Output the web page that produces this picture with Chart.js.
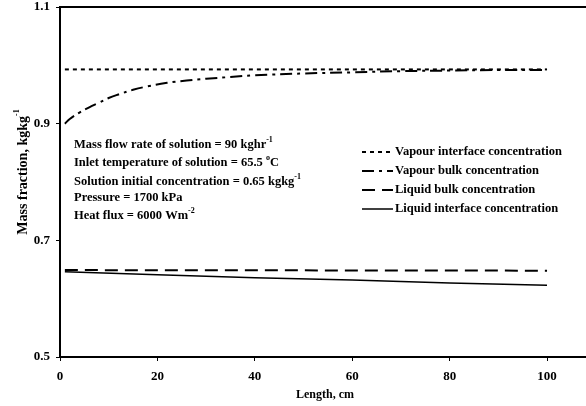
<!DOCTYPE html>
<html lang="en">
<head>
    <meta charset="UTF-8">
    <title>Mass fraction along length</title>
    <script src="https://cdn.jsdelivr.net/npm/chart.js"></script>
    <style>
        body {
            margin: 0;
            background: #fff;
        }
        #chart-container {
            width: 586px;
            height: 406px;
        }
    </style>
</head>
<body>
    <div id="chart-container">
        <canvas id="massChart"></canvas>
    </div>

    <script>
        // data (length in cm, mass fraction in kg/kg)
        const vapourInterfaceX = [1, 100];
        const vapourInterface = [0.993, 0.993];

        const vapourBulkX = [1, 2, 4, 6, 8, 10, 12, 15, 18, 22, 26, 30, 35, 40, 50, 60, 70, 80, 90, 100];
        const vapourBulk = [0.900, 0.908, 0.919, 0.928, 0.936, 0.944, 0.950, 0.958, 0.964, 0.970, 0.974, 0.977, 0.980, 0.983, 0.986, 0.988, 0.990, 0.991, 0.992, 0.992];

        const liquidBulkX = [1, 100];
        const liquidBulk = [0.649, 0.648];

        const liquidInterfaceX = [1, 20, 40, 60, 80, 100];
        const liquidInterface = [0.646, 0.641, 0.636, 0.632, 0.627, 0.623];

        const xTicks = [0, 20, 40, 60, 80, 100];
        const yTicks = [0.5, 0.7, 0.9, 1.1];

        // [text, superscript, trailing text]
        const notes = [
            ["Mass flow rate of solution = 90 kghr", "-1"],
            ["Inlet temperature of solution = 65.5 ", "o", "C"],
            ["Solution initial concentration = 0.65 kgkg", "-1"],
            ["Pressure = 1700 kPa", ""],
            ["Heat flux = 6000 Wm", "-2"]
        ];

        const FONT = "'Liberation Serif', 'Times New Roman', serif";

        const toPoints = (xs, ys) => xs.map((x, i) => ({ x: x, y: ys[i] }));

        // text with a raised superscript, optional trailing text
        function supText(c, parts, x, y, size) {
            c.font = "bold " + size + "px " + FONT;
            c.fillText(parts[0], x, y);
            let w = c.measureText(parts[0]).width;
            if (parts[1]) {
                c.font = "bold " + Math.round(size * 0.6) + "px " + FONT;
                c.fillText(parts[1], x + w, y - size * 0.42);
                w += c.measureText(parts[1]).width;
            }
            if (parts[2]) {
                c.font = "bold " + size + "px " + FONT;
                c.fillText(parts[2], x + w, y);
                w += c.measureText(parts[2]).width;
            }
            return w;
        }

        // top frame, axis titles, notes and legend drawn over the plot
        const extras = {
            id: "extras",
            afterDraw(chart) {
                const c = chart.ctx;
                const area = chart.chartArea;
                c.save();
                c.strokeStyle = "#000";
                c.lineWidth = 2;
                c.setLineDash([]);
                c.beginPath();
                c.moveTo(area.left, area.top);
                c.lineTo(area.right, area.top);
                c.stroke();

                c.fillStyle = "#000";
                c.textBaseline = "middle";
                c.textAlign = "left";

                // x title
                c.font = "bold 12px " + FONT;
                const xt = "Length, cm";
                c.fillText(xt, 325 - c.measureText(xt).width / 2, 395);

                // y title, rotated
                c.save();
                c.translate(23, 172);
                c.rotate(-Math.PI / 2);
                const parts = ["Mass fraction, kgkg", "-1"];
                c.font = "bold 14px " + FONT;
                let tw = c.measureText(parts[0]).width;
                c.font = "bold 8px " + FONT;
                tw += c.measureText(parts[1]).width;
                supText(c, parts, -tw / 2, 0, 14);
                c.restore();

                const noteY = [145, 163, 182, 198, 216];
                notes.forEach((t, i) => supText(c, t, 74, noteY[i], 12.5));

                c.font = "bold 12.5px " + FONT;
                const legY = [152, 171, 190, 209];
                chart.data.datasets.forEach((ds, i) => {
                    c.strokeStyle = "#000";
                    c.lineWidth = ds.borderWidth;
                    c.setLineDash(ds.borderDash || []);
                    c.beginPath();
                    c.moveTo(362, legY[i]);
                    c.lineTo(393, legY[i]);
                    c.stroke();
                    c.setLineDash([]);
                    c.fillText(ds.label, 395, legY[i]);
                });
                c.restore();
            }
        };

        new Chart(document.getElementById("massChart"), {
            type: "line",
            data: {
                datasets: [
                    {
                        label: "Vapour interface concentration",
                        data: toPoints(vapourInterfaceX, vapourInterface),
                        borderColor: "#000",
                        borderWidth: 2,
                        borderDash: [4, 4]
                    },
                    {
                        label: "Vapour bulk concentration",
                        data: toPoints(vapourBulkX, vapourBulk),
                        borderColor: "#000",
                        borderWidth: 2,
                        borderDash: [12, 5, 3, 5],
                        tension: 0.4
                    },
                    {
                        label: "Liquid bulk concentration",
                        data: toPoints(liquidBulkX, liquidBulk),
                        borderColor: "#000",
                        borderWidth: 2,
                        borderDash: [13, 7]
                    },
                    {
                        label: "Liquid interface concentration",
                        data: toPoints(liquidInterfaceX, liquidInterface),
                        borderColor: "#000",
                        borderWidth: 1.5
                    }
                ]
            },
            options: {
                responsive: true,
                maintainAspectRatio: false,
                animation: false,
                layout: { padding: { top: 7, left: 0, right: 0, bottom: 0 } },
                elements: { point: { radius: 0 } },
                plugins: {
                    legend: { display: false },
                    tooltip: { enabled: false }
                },
                scales: {
                    x: {
                        type: "linear",
                        min: 0,
                        max: 108,
                        afterBuildTicks: s => { s.ticks = xTicks.map(v => ({ value: v })); },
                        afterFit: s => { s.height = 49; s.paddingRight = 0; },
                        grid: { drawOnChartArea: false, drawTicks: true, tickLength: 4, color: "#000" },
                        border: { display: true, color: "#000", width: 2 },
                        ticks: {
                            color: "#000",
                            padding: 8,
                            maxRotation: 0,
                            font: { family: FONT, size: 13, weight: "bold" }
                        }
                    },
                    y: {
                        min: 0.5,
                        max: 1.1,
                        afterBuildTicks: s => { s.ticks = yTicks.map(v => ({ value: v })); },
                        afterFit: s => { s.width = 60; s.paddingTop = 0; s.paddingBottom = 0; },
                        grid: { drawOnChartArea: false, drawTicks: true, tickLength: 4, color: "#000" },
                        border: { display: true, color: "#000", width: 2 },
                        ticks: {
                            color: "#000",
                            padding: 6,
                            callback: v => v.toFixed(1),
                            font: { family: FONT, size: 13, weight: "bold" }
                        }
                    }
                }
            },
            plugins: [extras]
        });
    </script>
</body>
</html>
